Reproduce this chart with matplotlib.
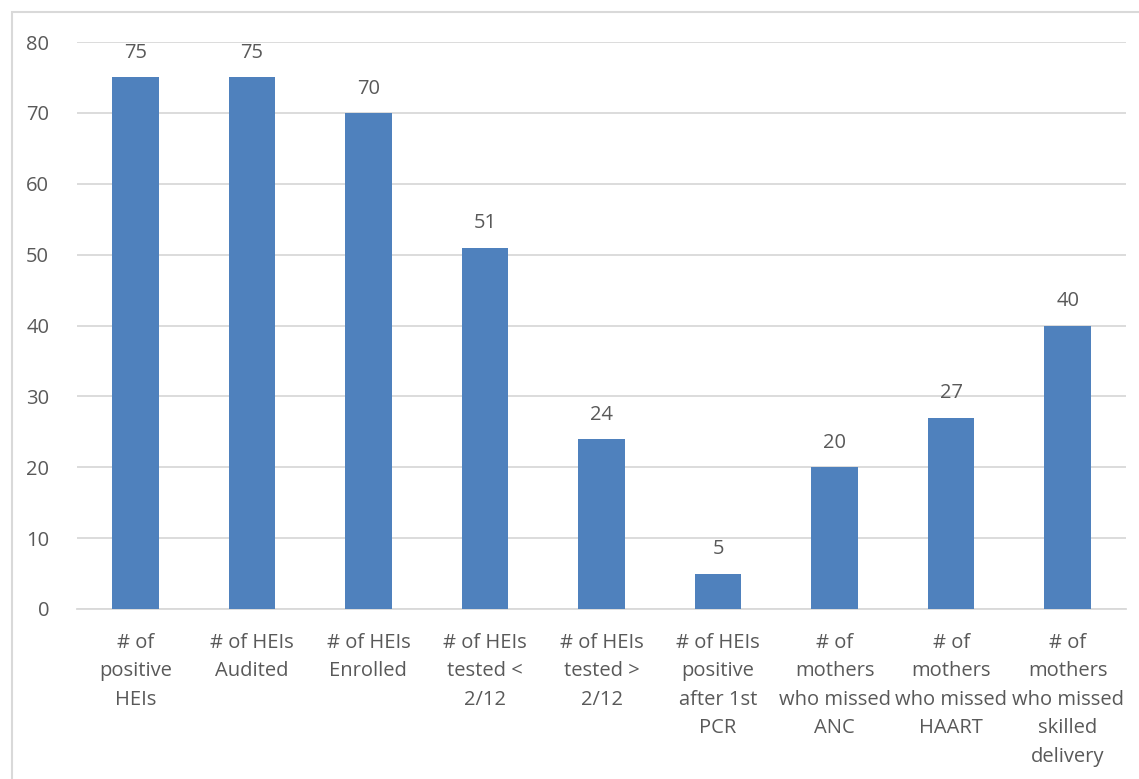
import matplotlib.pyplot as plt
from matplotlib.patches import Rectangle

categories = ["# of\npositive\nHEIs", "# of HEIs\nAudited", "# of HEIs\nEnrolled",
              "# of HEIs\ntested <\n2/12", "# of HEIs\ntested >\n2/12",
              "# of HEIs\npositive\nafter 1st\nPCR", "# of\nmothers\nwho missed\nANC",
              "# of\nmothers\nwho missed\nHAART", "# of\nmothers\nwho missed\nskilled\ndelivery"]
values = [75, 75, 70, 51, 24, 5, 20, 27, 40]

plt.rcParams['font.family'] = ['Open Sans', 'DejaVu Sans']
txt = '#595959'
W, H = 1139, 779
fig = plt.figure(figsize=(W / 100, H / 100), dpi=100)
fig.patches.append(Rectangle((12 / W, -0.01), 1.02, 1 - 12 / H + 0.01, transform=fig.transFigure,
                             fill=False, edgecolor='#D9D9D9', linewidth=1.5))

ax = fig.add_axes([77 / W, 1 - 609 / H, (1126 - 77) / W, (609 - 42) / H])
x = range(len(values))
bars = ax.bar(x, values, width=0.4, color='#4F81BD', zorder=3)
for xi, v in zip(x, values):
    ax.text(xi, v + 2.0, str(v), ha='center', va='bottom', fontsize=14.5, color=txt)

ax.set_xlim(-0.5, len(values) - 0.5)
ax.set_ylim(0, 80)
ax.set_yticks(range(0, 81, 10))
ax.grid(axis='y', color='#D9D9D9', linewidth=1.3, zorder=0)
ax.set_xticks(list(x))
ax.set_xticklabels(categories, fontsize=14.5, color=txt, linespacing=1.57)
ax.tick_params(axis='y', labelsize=14.5, labelcolor=txt, length=0, pad=20)
ax.tick_params(axis='x', length=0, pad=17)
for s in ['top', 'right', 'left']:
    ax.spines[s].set_visible(False)
ax.spines['bottom'].set_color('#D9D9D9')
ax.spines['bottom'].set_linewidth(1.3)

fig.savefig('out.png', dpi=100)
